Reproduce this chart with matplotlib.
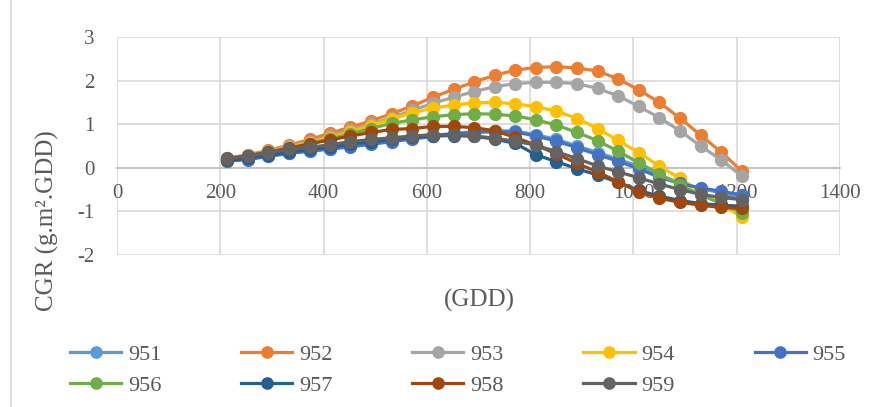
import matplotlib.pyplot as plt
from matplotlib.lines import Line2D

plt.rcParams['font.family'] = ['Liberation Serif', 'DejaVu Serif']
plt.rcParams['axes.unicode_minus'] = False

# GDD sampling points
gdd = [213, 253, 293, 333, 373, 413, 452, 492, 532, 572, 612, 652, 692,
       731, 771, 811, 851, 891, 931, 970, 1010, 1050, 1090, 1130, 1170, 1210]

cgr_951 = [0.16, 0.20, 0.27, 0.34, 0.39, 0.44, 0.50, 0.56, 0.62, 0.68, 0.74, 0.79, 0.83,
           0.85, 0.84, 0.76, 0.65, 0.50, 0.35, 0.20, 0.03, -0.17, -0.35, -0.48, -0.57, -0.66]
cgr_952 = [0.22, 0.30, 0.40, 0.52, 0.65, 0.80, 0.93, 1.08, 1.24, 1.42, 1.62, 1.80, 1.97,
           2.12, 2.24, 2.30, 2.32, 2.29, 2.22, 2.04, 1.79, 1.50, 1.14, 0.75, 0.36, -0.08]
cgr_953 = [0.21, 0.29, 0.38, 0.49, 0.60, 0.73, 0.86, 1.00, 1.15, 1.32, 1.48, 1.62, 1.75,
           1.86, 1.93, 1.96, 1.96, 1.93, 1.82, 1.65, 1.41, 1.15, 0.85, 0.50, 0.18, -0.19]
cgr_954 = [0.21, 0.28, 0.37, 0.47, 0.58, 0.69, 0.82, 0.97, 1.12, 1.26, 1.37, 1.44, 1.49,
           1.50, 1.47, 1.40, 1.30, 1.13, 0.90, 0.63, 0.35, 0.04, -0.24, -0.55, -0.85, -1.12]
cgr_955 = [0.15, 0.19, 0.26, 0.33, 0.38, 0.43, 0.48, 0.54, 0.60, 0.66, 0.72, 0.77, 0.81,
           0.83, 0.82, 0.73, 0.61, 0.46, 0.30, 0.15, -0.02, -0.22, -0.36, -0.46, -0.54, -0.62]
cgr_956 = [0.20, 0.27, 0.36, 0.45, 0.55, 0.66, 0.78, 0.90, 1.02, 1.10, 1.17, 1.22, 1.24,
           1.23, 1.19, 1.10, 0.98, 0.81, 0.62, 0.38, 0.12, -0.14, -0.39, -0.62, -0.82, -1.03]
cgr_957 = [0.17, 0.22, 0.29, 0.36, 0.42, 0.48, 0.54, 0.60, 0.65, 0.70, 0.73, 0.74, 0.72,
           0.66, 0.56, 0.30, 0.14, -0.02, -0.17, -0.33, -0.52, -0.65, -0.75, -0.82, -0.86, -0.88]
cgr_958 = [0.20, 0.28, 0.36, 0.45, 0.55, 0.64, 0.73, 0.81, 0.88, 0.90, 0.95, 0.95, 0.92,
           0.85, 0.70, 0.52, 0.32, 0.10, -0.10, -0.32, -0.55, -0.70, -0.79, -0.86, -0.91, -0.93]
cgr_959 = [0.22, 0.27, 0.35, 0.42, 0.47, 0.53, 0.60, 0.65, 0.69, 0.73, 0.76, 0.76, 0.73,
           0.68, 0.61, 0.52, 0.37, 0.21, 0.04, -0.09, -0.23, -0.37, -0.50, -0.61, -0.68, -0.73]

names = ['951', '952', '953', '954', '955', '956', '957', '958', '959']
series = [cgr_951, cgr_952, cgr_953, cgr_954, cgr_955, cgr_956, cgr_957, cgr_958, cgr_959]
colors = ['#5B9BD5', '#ED7D31', '#A5A5A5', '#FFC000', '#4472C4',
          '#70AD47', '#255E91', '#9E480E', '#636363']

W, H = 876, 407
fig = plt.figure(figsize=(W / 100, H / 100), dpi=100)
ax = fig.add_axes([117 / W, 1 - 255 / H, (840 - 117) / W, (255 - 37) / H])

lines = []
for name, vals, c in zip(names, series, colors):
    l, = ax.plot(gdd, vals, color=c, lw=2.3, marker='o', ms=8.5, label=name, zorder=3)
    lines.append(l)

ax.set_xlim(0, 1400)
ax.set_ylim(-2, 3)
ax.set_xticks(range(0, 1401, 200))
ax.set_yticks(range(-2, 4))
ax.grid(True, color='#D9D9D9', lw=1.2, zorder=0)
ax.set_axisbelow(True)
for s in ['top', 'right', 'left']:
    ax.spines[s].set_visible(False)
ax.spines['bottom'].set_position(('data', 0))
ax.spines['bottom'].set_color('#BFBFBF')
ax.spines['bottom'].set_linewidth(1.2)
ax.tick_params(axis='both', length=0, labelsize=15, labelcolor='#595959')
ax.tick_params(axis='x', pad=12)
ax.tick_params(axis='y', pad=16)

fig.text(479 / W, 1 - 300 / H, '(GDD)', ha='center', va='center', fontsize=18, color='#595959')
fig.text(47 / W, 1 - 221 / H, 'CGR (g.m².GDD)', ha='center', va='center', rotation=90,
         fontsize=18, color='#595959')

# chart border on the left
fig.add_artist(Line2D([11 / W, 11 / W], [0, 1], transform=fig.transFigure, color='#D9D9D9', lw=1.2))

# legend filled row by row (matplotlib fills by column)
order = [0, 5, 1, 6, 2, 7, 3, 8, 4]
fig.legend([lines[i] for i in order], [names[i] for i in order],
           loc='upper left', bbox_to_anchor=(70 / W, 1 - 344 / H), ncol=5, frameon=False,
           prop={'family': 'Liberation Serif', 'size': 16}, handlelength=2.3, handletextpad=0.3,
           columnspacing=3.6, labelspacing=0.5, borderpad=0, borderaxespad=0,
           labelcolor='#595959', markerscale=0.95)

fig.savefig('out.png', dpi=100)
